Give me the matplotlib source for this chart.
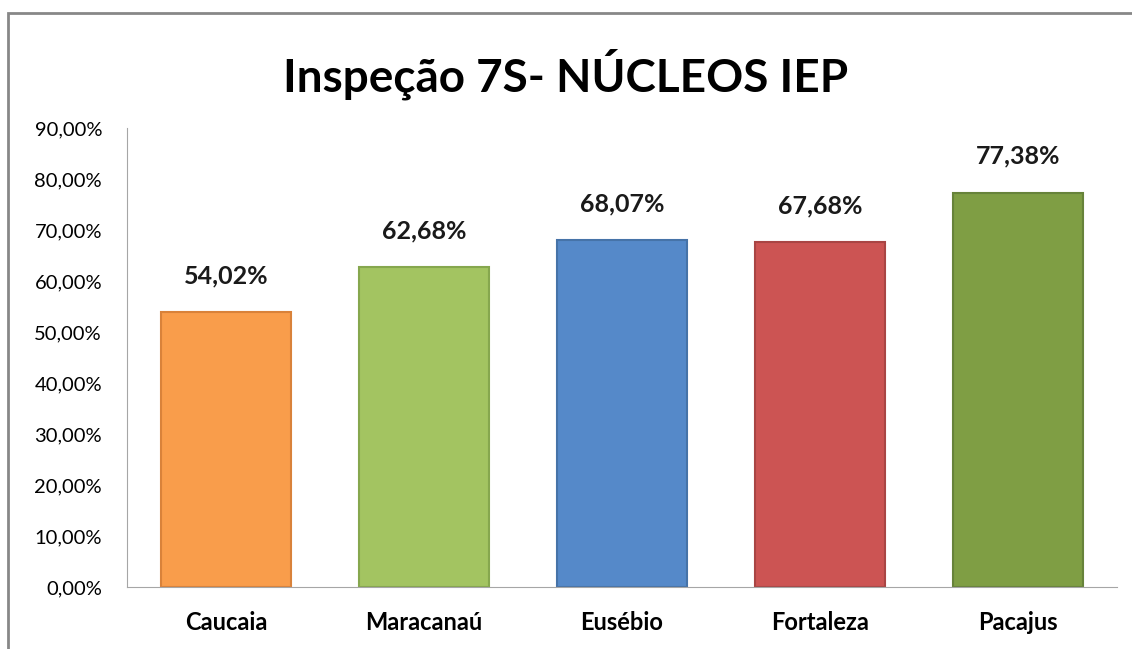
import matplotlib.pyplot as plt
from matplotlib.patches import Rectangle

plt.rcParams['font.family'] = ['Lato', 'DejaVu Sans']

categorias = ['Caucaia', 'Maracanaú', 'Eusébio', 'Fortaleza', 'Pacajus']
valores = [54.02, 62.68, 68.07, 67.68, 77.38]
rotulos = ['54,02%', '62,68%', '68,07%', '67,68%', '77,38%']
cores = ['#F99D4B', '#A3C461', '#5589C9', '#CC5453', '#7F9E44']
bordas = ['#D9823A', '#86A74E', '#4673A8', '#A94544', '#67833A']
yticks = [0, 10, 20, 30, 40, 50, 60, 70, 80, 90]

fig = plt.figure(figsize=(11.32, 6.49), dpi=100)
ax = fig.add_axes([0.1122, 0.0955, 0.8746, 0.707])

x = range(len(categorias))
bars = ax.bar(x, valores, width=0.66, color=cores, edgecolor=bordas, linewidth=1.5, zorder=2)

for xi, v, r in zip(x, valores, rotulos):
    ax.annotate(r, (xi, v), xytext=(0, 26), textcoords='offset points',
                ha='center', va='center', fontsize=18, fontweight='bold', color='#1a1a1a')

ax.set_xlim(-0.5, len(categorias) - 0.5)
ax.set_ylim(0, 90)
ax.set_yticks(yticks)
ax.set_yticklabels(['%d,00%%' % t for t in yticks], fontsize=14.5)
ax.set_xticks(list(x))
ax.set_xticklabels(categorias, fontsize=17, fontweight='bold')
ax.tick_params(axis='x', length=0, pad=17)
ax.tick_params(axis='y', length=0, pad=18)

for s in ['top', 'right']:
    ax.spines[s].set_visible(False)
ax.spines['left'].set_color('#A6A6A6')
ax.spines['bottom'].set_color('#A6A6A6')

fig.text(0.5, 0.885, 'Inspeção 7S- NÚCLEOS IEP', ha='center', va='center',
         fontsize=33, fontweight='bold', color='black')

# moldura externa do gráfico
fig.patches.append(Rectangle((8 / 1132, -0.05), 1.2, 1 - 12.5 / 649 + 0.05,
                             transform=fig.transFigure, fill=False,
                             edgecolor='#878787', linewidth=2))

fig.savefig('out.png', dpi=100)
